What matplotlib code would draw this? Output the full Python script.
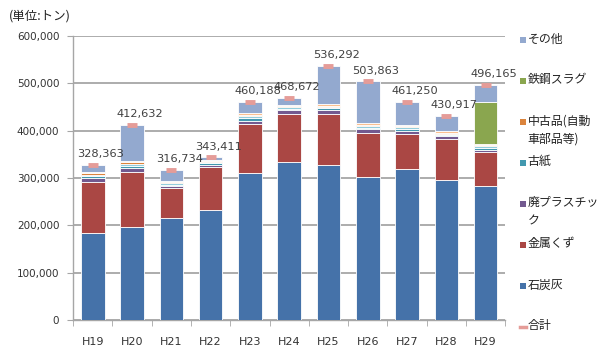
import matplotlib
matplotlib.use("Agg")
import matplotlib.pyplot as plt
import numpy as np
from matplotlib.patches import Rectangle
from matplotlib.lines import Line2D

plt.rcParams['font.family'] = ['Noto Sans CJK JP', 'DejaVu Sans']

years = ["H19", "H20", "H21", "H22", "H23", "H24", "H25", "H26", "H27", "H28", "H29"]
total = [328363, 412632, 316734, 343411, 460188, 468672, 536292, 503863, 461250, 430917, 496165]

# 下から積み上げる順
coal_ash = [184000, 196000, 215000, 232000, 310000, 334000, 327000, 302000, 319000, 296000, 283000]
metal = [108000, 117000, 64000, 91000, 104000, 101000, 108000, 93000, 74000, 86000, 72000]
plastic = [9000, 9000, 4000, 5000, 7000, 8000, 8000, 9000, 7000, 6000, 5000]
paper = [4000, 4000, 3000, 3000, 5000, 3000, 4000, 2000, 4000, 3000, 4000]
misc_a = [2000, 3000, 3000, 2000, 4000, 3000, 3000, 3000, 3000, 3000, 3000]   # 凡例なし
used_goods = [4000, 4000, 3000, 3000, 3000, 3000, 3000, 2000, 2000, 2000, 2000]
misc_b = [2000, 3000, 2000, 2000, 4000, 3000, 4000, 5000, 4000, 4000, 3000]   # 凡例なし
slag = [0, 0, 0, 0, 0, 0, 0, 0, 0, 0, 88000]
others = [15363, 76632, 22734, 5411, 23188, 13672, 79292, 87863, 48250, 30917, 36165]

series = [
    (coal_ash, "石炭灰", "#4572A9"),
    (metal, "金属くず", "#AA4744"),
    (plastic, "廃プラスチッ\nク", "#72598F"),
    (paper, "古紙", "#4298AF"),
    (misc_a, None, "#93CDDD"),
    (used_goods, "中古品(自動\n車部品等)", "#DB843D"),
    (misc_b, None, "#FAC090"),
    (slag, "鉄鋼スラグ", "#8AA64F"),
    (others, "その他", "#93A9CF"),
]

fig = plt.figure(figsize=(6.0, 3.63), dpi=100)
ax = fig.add_axes([0.122, 0.118, 0.72, 0.783])

x = np.arange(len(years))
bottom = np.zeros(len(years))
for vals, lab, col in series:
    v = np.array(vals, dtype=float)
    ax.bar(x, v, 0.6, bottom=bottom, color=col, edgecolor="white", linewidth=0.6, zorder=3)
    bottom += v

tot_color = "#E59C98"
ax.plot(x, total, linestyle="none", marker="_", markersize=7, markeredgewidth=3.5,
        color=tot_color, zorder=4)

for xi, t in zip(x, total):
    ax.text(xi + 0.2, t + 12000, "{:,}".format(t), ha="center", va="bottom",
            fontsize=8.2, color="#404040", family=['DejaVu Sans'])

ax.set_xlim(-0.5, 10.5)
ax.set_ylim(0, 600000)
ax.set_yticks(np.arange(0, 600001, 100000))
ax.set_yticklabels(["{:,}".format(v) for v in range(0, 600001, 100000)],
                   fontsize=7.5, color="#333333", family=['DejaVu Sans'])
ax.yaxis.grid(True, color="#A6A6A6", linewidth=1.3, zorder=0)
ax.set_axisbelow(True)

ax.set_xticks(x)
ax.set_xticklabels(years, fontsize=8, color="#333333", family=['DejaVu Sans'])
ax.set_xticks(np.arange(-0.5, 11, 1), minor=True)
ax.tick_params(axis="x", which="major", length=0, pad=12)
ax.tick_params(axis="x", which="minor", length=4, color="#A6A6A6")
ax.tick_params(axis="y", length=4, color="#A6A6A6", pad=6)

for s in ["top", "right"]:
    ax.spines[s].set_visible(False)
for s in ["left", "bottom"]:
    ax.spines[s].set_color("#A6A6A6")
    ax.spines[s].set_linewidth(1.0)

fig.text(0.015, 0.955, "(単位:トン)", fontsize=9, color="#222222", va="center")

# 凡例(右側)
legend_items = [(lab, col) for vals, lab, col in series[::-1] if lab is not None]
step = 41 / 363
y0 = 1 - 40 / 363
for i, (lab, col) in enumerate(legend_items):
    yc = y0 - i * step
    fig.patches.append(Rectangle((0.866, yc - 0.0095), 0.011, 0.019, transform=fig.transFigure,
                                 facecolor=col, edgecolor="none"))
    fig.text(0.879, yc + 0.021, lab, fontsize=8.6, color="#222222", va="top",
             linespacing=1.5)
yc = y0 - len(legend_items) * step
fig.lines.append(Line2D([0.867, 0.877], [yc, yc], transform=fig.transFigure,
                        color=tot_color, linewidth=2.5))
fig.text(0.879, yc + 0.021, "合計", fontsize=8.6, color="#222222", va="top")

fig.savefig("out.png", dpi=100)
